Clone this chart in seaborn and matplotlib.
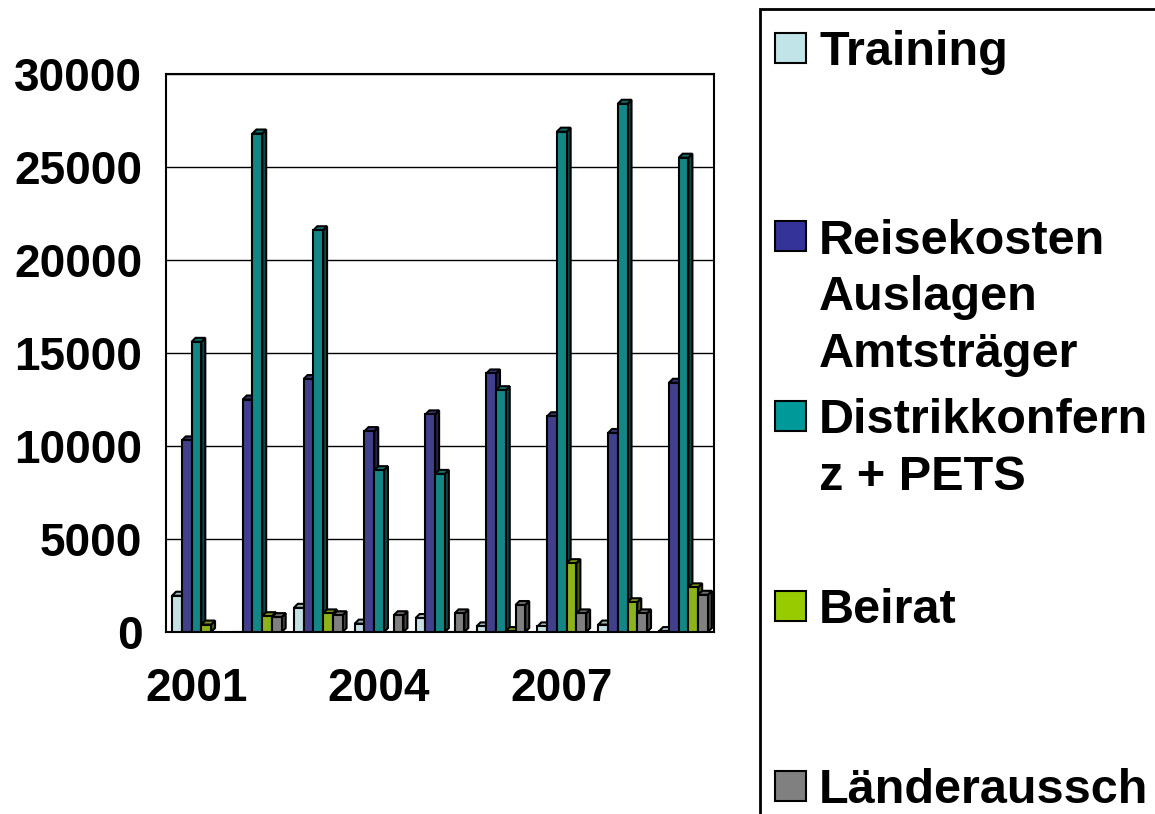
import numpy as np
import pandas as pd
import matplotlib
matplotlib.use("Agg")
import matplotlib.pyplot as plt
from matplotlib.patches import Rectangle, Polygon
import seaborn as sns

# values
years = ["2001", "2002", "2003", "2004", "2005", "2006", "2007", "2008", "2009"]
training = [1950, 0, 1300, 450, 750, 300, 300, 400, 50]
reisekosten = [10300, 12500, 13600, 10800, 11700, 13900, 11600, 10700, 13400]
distrikt = [15600, 26800, 21600, 8700, 8500, 13000, 26900, 28400, 25500]
beirat = [400, 850, 1000, 0, 0, 50, 3700, 1600, 2400]
laender = [0, 800, 900, 900, 1000, 1450, 1000, 1000, 2000]

series_names = ["Training", "Reisekosten\nAuslagen\nAmtsträger",
                "Distrikkonfern\nz + PETS", "Beirat", "Länderaussch"]
colors = ["#C0E4E8", "#333399", "#009999", "#99CC00", "#808080"]

df = pd.DataFrame({
    "year": years * 5,
    "series": np.repeat(series_names, len(years)),
    "value": training + reisekosten + distrikt + beirat + laender,
})

sns.set_style("white")
plt.rcParams["font.family"] = ["Liberation Sans", "DejaVu Sans"]
plt.rcParams["font.weight"] = "bold"
plt.rcParams["text.color"] = "black"
plt.rcParams["xtick.color"] = "black"
plt.rcParams["ytick.color"] = "black"

W, H = 1155, 814
fig = plt.figure(figsize=(W / 100, H / 100), dpi=100)
ax = fig.add_axes([166 / W, 1 - 632 / H, 548 / W, 558 / H])

sns.barplot(data=df, x="year", y="value", hue="series", palette=colors,
            order=years, hue_order=series_names, edgecolor="black",
            linewidth=1.5, width=0.8, legend=False, ax=ax)

ax.set_ylim(0, 30000)
ax.set_xlim(-0.5, len(years) - 0.5)

# fake the 3d look of the old spreadsheet chart: a top and a side face on every bar
dx = 4 / 61
dy = 4 * 30000 / 558
for p in list(ax.patches):
    x, y = p.get_x(), p.get_y()
    w, h = p.get_width(), p.get_height()
    if h <= 0:
        continue
    r, g, b = p.get_facecolor()[:3]
    z = 3 + x
    p.set_zorder(z + 0.002)
    top = Polygon([(x, y + h), (x + dx, y + h + dy), (x + w + dx, y + h + dy), (x + w, y + h)],
                  closed=True, facecolor=(r * 0.85, g * 0.85, b * 0.85),
                  edgecolor="black", linewidth=1.5, zorder=z + 0.001)
    side = Polygon([(x + w, y), (x + w + dx, y + dy), (x + w + dx, y + h + dy), (x + w, y + h)],
                   closed=True, facecolor=(r * 0.55, g * 0.55, b * 0.55),
                   edgecolor="black", linewidth=1.5, zorder=z)
    ax.add_patch(top)
    ax.add_patch(side)

ax.set_yticks(np.arange(0, 30001, 5000))
ax.set_yticklabels([str(v) for v in range(0, 30001, 5000)], fontsize=33, fontweight="bold")
ax.set_xticks([0, 3, 6])
ax.set_xticklabels(years[::3], fontsize=33, fontweight="bold")
ax.set_xticks(np.arange(-0.5, len(years), 1), minor=True)
ax.tick_params(axis="x", which="major", length=0, pad=25)
ax.tick_params(axis="x", which="minor", length=10, width=1.5, color="black", direction="out")
ax.tick_params(axis="y", length=8, width=1.5, color="black", direction="out", pad=9)
ax.yaxis.grid(True, color="black", linewidth=1)
ax.set_axisbelow(True)
for s in ax.spines.values():
    s.set_color("black")
    s.set_linewidth(1.5)
ax.set_xlabel("")
ax.set_ylabel("")

# legend box, running off the right and bottom edges like the original
fig.patches.append(Rectangle((760 / W, -0.05), 0.4, 1 - 9 / H + 0.05,
                             transform=fig.transFigure, fill=False,
                             edgecolor="black", linewidth=2))
# first-line baselines of each legend entry (pixels from top)
baselines = [65, 253, 433, 623, 803]
line_step = 57
for name, col, yb in zip(series_names, colors, baselines):
    fig.patches.append(Rectangle((775 / W, 1 - (yb - 2) / H), 31 / W, 30 / H,
                                 transform=fig.transFigure, facecolor=col,
                                 edgecolor="black", linewidth=1.5))
    n_lines = name.count("\n")
    # va="baseline" sits on the last line, so shift down by the extra lines
    fig.text(819 / W, 1 - (yb + n_lines * line_step) / H, name, fontsize=35,
             fontweight="bold", va="baseline", ha="left", linespacing=1.33)

fig.savefig("out.png", dpi=100)
